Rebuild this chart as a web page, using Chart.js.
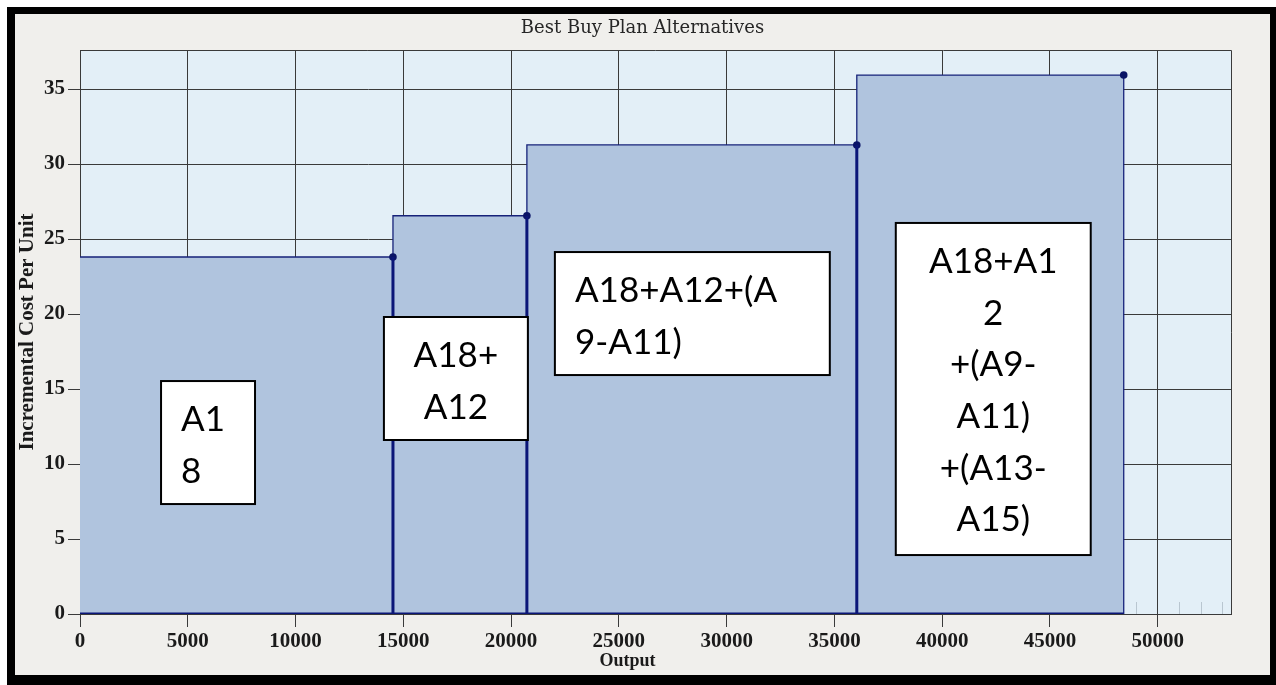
<!DOCTYPE html>
<html lang="en">
<head>
	<title>Best Buy Plan Alternatives</title>
	<meta charset="utf-8">
	<script src="https://cdn.jsdelivr.net/npm/chart.js@4.4.1/dist/chart.umd.min.js"></script>
	<style type="text/css">
		html, body {
			margin: 0;
			padding: 0;
			background: #ffffff;
		}
		#frame {
			position: absolute;
			left: 7px;
			top: 7px;
			width: 1255px;
			height: 661px;
			border-style: solid;
			border-color: #000000;
			border-width: 7px 6px 10px 8px;
			background: #f0efec;
		}
		canvas {
			display: block;
		}
	</style>
</head>
<body>
<div id="frame">
	<canvas id="plan-canvas" width="1255" height="661"></canvas>
</div>
<script type="text/javascript">
	// output level where each plan ends (the first plan starts at 0)
	var planEnd = [14520, 20733, 36039, 48423];
	// incremental cost per unit of each plan
	var planCost = [23.8, 26.55, 31.27, 35.93];
	// label text of each plan, broken into lines like on the slide
	var planText = [
		["A1", "8"],
		["A18+", "A12"],
		["A18+A12+(A", "9-A11)"],
		["A18+A1", "2", "+(A9-", "A11)", "+(A13-", "A15)"]
	];
	// axis ticks and ranges
	var xTicks = [0, 5000, 10000, 15000, 20000, 25000, 30000, 35000, 40000, 45000, 50000];
	var yTicks = [0, 5, 10, 15, 20, 25, 30, 35];
	var xMax = 53400;
	var yMax = 37.6;
	var chartTitle = "Best Buy Plan Alternatives";
	var xTitle = "Output";

	// where the label boxes sit, in axis units
	var labelBoxes = [
		{ x0: 3760, x1: 8120, yTop: 15.53, yBottom: 7.33, align: "left" },
		{ x0: 14100, x1: 20779, yTop: 19.8, yBottom: 11.6, align: "center" },
		{ x0: 22032, x1: 34787, yTop: 24.13, yBottom: 15.93, align: "left" },
		{ x0: 37848, x1: 46892, yTop: 26.07, yBottom: 3.93, align: "center" }
	];

	// 1. step outline: vertical jump at the start of each plan, flat to its end
	var stepPoints = [{ x: 0, y: planCost[0] }];
	for (var i = 0; i < planEnd.length; i++) {
		stepPoints.push({ x: planEnd[i], y: planCost[i] });
	}
	stepPoints.push({ x: planEnd[planEnd.length - 1], y: 0 });

	// 2. thick drop lines under each corner dot plus the base line
	var dropPoints = [{ x: 0, y: 0 }];
	for (var j = 0; j < planEnd.length - 1; j++) {
		dropPoints.push({ x: planEnd[j], y: 0 });
		dropPoints.push({ x: planEnd[j], y: planCost[j] });
		dropPoints.push({ x: planEnd[j], y: null });
		dropPoints.push({ x: planEnd[j], y: 0 });
	}
	dropPoints.push({ x: planEnd[planEnd.length - 1], y: 0 });

	var plotDecor = {
		id: "plotDecor",
		beforeDraw: function(chart) {
			var a = chart.chartArea;
			var ctx = chart.ctx;
			ctx.save();
			ctx.fillStyle = "#e3eff7";
			ctx.fillRect(a.left, a.top, a.right - a.left, a.bottom - a.top);
			// title centred on the whole picture
			ctx.fillStyle = "#262626";
			ctx.font = "18px 'DejaVu Serif', serif";
			ctx.textAlign = "center";
			ctx.textBaseline = "middle";
			ctx.fillText(chartTitle, chart.width / 2, 14);
			// x axis title sits a bit left of the picture centre
			ctx.fillStyle = "#1a1a1a";
			ctx.font = "bold 18px 'Liberation Serif', 'Times New Roman', serif";
			ctx.fillText(xTitle, chart.width / 2 - 15, chart.height - 14);
			ctx.restore();
		},
		beforeDatasetsDraw: function(chart) {
			// faint minor ticks along the bottom of the plot
			var a = chart.chartArea;
			var ctx = chart.ctx;
			var xs = chart.scales.x;
			ctx.save();
			ctx.strokeStyle = "#b9c6d0";
			ctx.lineWidth = 1;
			for (var v = 1000; v < xMax; v += 1000) {
				if (v % 5000 === 0) continue;
				var px = Math.round(xs.getPixelForValue(v)) + 0.5;
				ctx.beginPath();
				ctx.moveTo(px, a.bottom);
				ctx.lineTo(px, a.bottom - 12);
				ctx.stroke();
			}
			ctx.restore();
		},
		afterDatasetsDraw: function(chart) {
			var a = chart.chartArea;
			var ctx = chart.ctx;
			var xs = chart.scales.x;
			var ys = chart.scales.y;
			ctx.save();
			// top and right edge of the plot
			ctx.strokeStyle = "#3a3a3a";
			ctx.lineWidth = 1;
			ctx.beginPath();
			ctx.moveTo(a.left, a.top + 0.5);
			ctx.lineTo(a.right + 0.5, a.top + 0.5);
			ctx.lineTo(a.right + 0.5, a.bottom);
			ctx.stroke();

			// label boxes
			ctx.font = "35px Lato, 'Open Sans', sans-serif";
			ctx.textBaseline = "alphabetic";
			for (var k = 0; k < labelBoxes.length; k++) {
				var b = labelBoxes[k];
				var left = xs.getPixelForValue(b.x0);
				var right = xs.getPixelForValue(b.x1);
				var top = ys.getPixelForValue(b.yTop);
				var bottom = ys.getPixelForValue(b.yBottom);
				ctx.fillStyle = "#ffffff";
				ctx.fillRect(left, top, right - left, bottom - top);
				ctx.strokeStyle = "#000000";
				ctx.lineWidth = 2;
				ctx.strokeRect(left, top, right - left, bottom - top);

				ctx.fillStyle = "#000000";
				ctx.textAlign = b.align;
				var tx = b.align === "left" ? left + 20 : (left + right) / 2;
				var lines = planText[k];
				for (var n = 0; n < lines.length; n++) {
					ctx.fillText(lines[n], tx, top + 50 + n * 51.7);
				}
			}
			ctx.restore();
		}
	};

	var tickFont = { family: "'Liberation Serif', 'Times New Roman', serif", size: 21, weight: "bold" };

	var ctx = document.querySelector("#plan-canvas").getContext("2d");
	var planChart = new Chart(ctx, {
		type: "line",
		data: {
			datasets: [{
				label: "drop lines",
				data: dropPoints,
				borderColor: "#0b1677",
				borderWidth: 3,
				pointRadius: 0,
				fill: false,
				spanGaps: false
			}, {
				label: "Incremental cost",
				data: stepPoints,
				stepped: "after",
				borderColor: "#16227a",
				borderWidth: 1.3,
				backgroundColor: "#b0c4de",
				fill: "origin",
				pointRadius: function(c) {
					return (c.dataIndex === 0 || c.dataIndex === stepPoints.length - 1) ? 0 : 3.8;
				},
				pointBackgroundColor: "#0a1466",
				pointBorderWidth: 0
			}]
		},
		options: {
			responsive: false,
			animation: false,
			events: [],
			layout: {
				padding: { left: 0, right: 39, top: 36, bottom: 0 }
			},
			plugins: {
				legend: { display: false },
				tooltip: { enabled: false },
				title: { display: false }
			},
			scales: {
				x: {
					type: "linear",
					min: 0,
					max: xMax,
					afterFit: function(s) { s.height = 61; },
					afterBuildTicks: function(s) {
						s.ticks = xTicks.map(function(v) { return { value: v }; });
					},
					ticks: {
						autoSkip: false,
						maxRotation: 0,
						padding: 2,
						color: "#1a1a1a",
						font: tickFont,
						callback: function(v) { return String(v); }
					},
					grid: { color: "#3a3a3a", lineWidth: 1, tickLength: 13 },
					border: { color: "#3a3a3a", width: 1 }
				},
				y: {
					type: "linear",
					min: 0,
					max: yMax,
					afterFit: function(s) { s.width = 65; },
					afterBuildTicks: function(s) {
						s.ticks = yTicks.map(function(v) { return { value: v }; });
					},
					ticks: {
						padding: 3,
						color: "#1a1a1a",
						font: tickFont
					},
					grid: { color: "#3a3a3a", lineWidth: 1, tickLength: 12 },
					border: { color: "#3a3a3a", width: 1 },
					title: {
						display: true,
						text: "Incremental Cost Per Unit",
						color: "#1a1a1a",
						font: { family: "'Liberation Serif', 'Times New Roman', serif", size: 21, weight: "bold" },
						padding: { top: 0, bottom: 0 }
					}
				}
			}
		},
		plugins: [plotDecor]
	});
</script>
</body>
</html>
